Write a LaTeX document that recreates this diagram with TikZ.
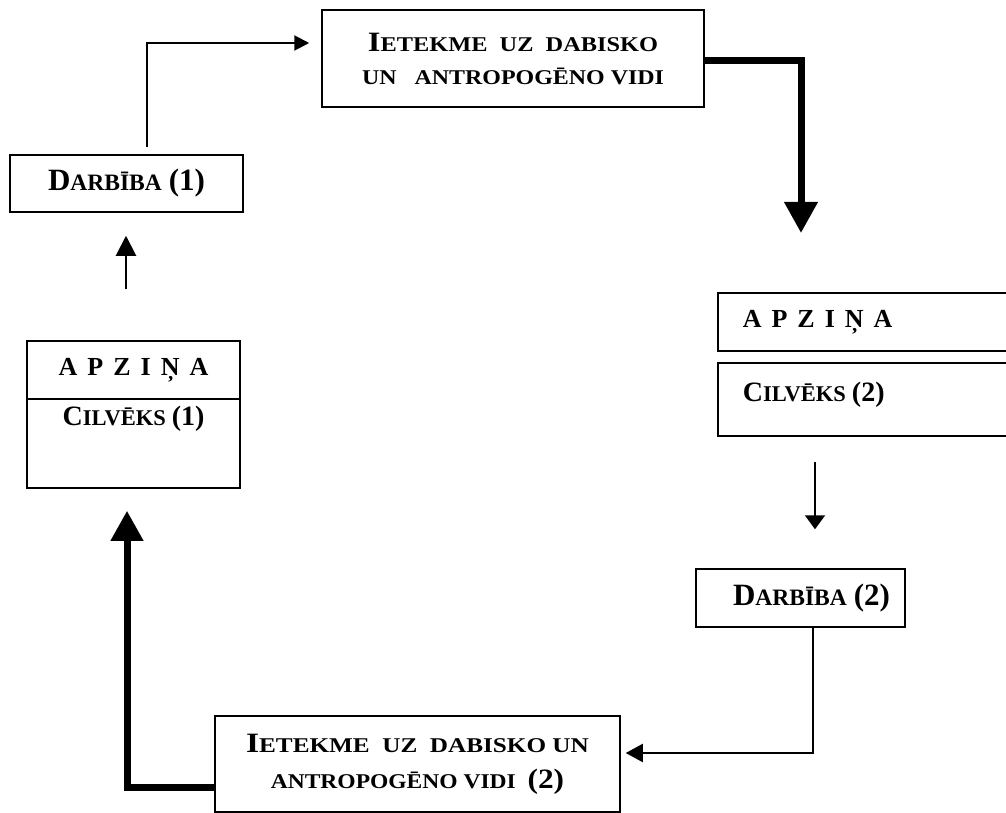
\documentclass[tikz,border=0pt]{standalone}
\usepackage{fontspec}
\setmainfont{Liberation Serif}
\usetikzlibrary{arrows.meta}
\newcommand\fz[2]{{\fontsize{#1}{#1}\selectfont #2}}
\newcommand\gap{\hspace{10pt}}
\begin{document}
\begin{tikzpicture}[x=1pt,y=-1pt, font=\bfseries,
  box/.style={draw, line width=1.5pt, inner sep=0pt},
  thinarrow/.style={line width=2pt},
  thickarrow/.style={line width=7pt}]
\useasboundingbox (0,0) rectangle (1006,813);

% boxes
\node[box, minimum width=382, minimum height=97, align=center,
      font=\bfseries\fontsize{21}{31}\selectfont] (top) at (513,58.5)
  {\raisebox{2pt}{\scalebox{1.16}[1]{\fz{28}{I}\fz{21}{ETEKME\ \ UZ\ \ DABISKO}}}\\
   \scalebox{1.14}[1]{\fz{21}{UN\ \ \ ANTROPOGĒNO VIDI}}};

\node[box, minimum width=233, minimum height=57] (darb1) at (126.5,183.5)
  {\fz{31}{D}\fz{23.5}{ARBĪBA}\hspace{7pt}\fz{31}{(1)}};

\node[box, minimum width=213, minimum height=58] (apz1) at (133.5,370)
  {\fz{26}{A\gap P\gap Z\gap I\gap Ņ\gap A}};
\node[box, minimum width=213, minimum height=89,
      label={[anchor=center, yshift=-21pt]north:{\fz{28}{C}\fz{22.5}{ILVĒKS}\hspace{6pt}\fz{28}{(1)}}}]
  (apz1b) at (133.5,443.5) {};

\node[box, minimum width=294, minimum height=58,
      label={[anchor=west, xshift=22pt]west:{\fz{26}{A\gap P\gap Z\gap I\gap Ņ\gap A}}}]
  (apz2) at (865,322) {};
\node[box, minimum width=294, minimum height=73,
      label={[anchor=west, xshift=22pt, yshift=5pt]west:{\fz{28}{C}\fz{22.5}{ILVĒKS}\hspace{6pt}\fz{28}{(2)}}}]
  (apz2b) at (865,399.5) {};

\node[box, minimum width=209, minimum height=58] (darb2) at (800.5,598)
  {\hspace*{22pt}\fz{31}{D}\fz{23.5}{ARBĪBA}\hspace{7pt}\fz{31}{(2)}};

\node[box, minimum width=405, minimum height=96, align=center,
      font=\bfseries\fontsize{21}{34}\selectfont] (bot) at (417.5,764)
  {\raisebox{2pt}{\scalebox{1.2}[1]{\fz{28}{I}\fz{21}{ETEKME\ \ UZ\ \ DABISKO UN}}}\\
   \scalebox{1.12}[1]{\fz{21}{ANTROPOGĒNO VIDI}\ \ \fz{28}{(2)}}};

% connectors
\coordinate (c1) at (147,43);
\draw[thinarrow, -{Triangle[length=15pt,width=15pt]}, shorten <=7pt]
  (darb1.north -| c1) -- (c1) -- ([xshift=-12pt]top.west |- c1);

\coordinate (c2) at (801,233);
\draw[thickarrow, -{Triangle[length=31pt,width=32pt]}]
  ([yshift=-2pt]top.east) -- ([yshift=-2pt]top.east -| c2) -- (c2);

\coordinate (c3) at (815,0);
\draw[thinarrow, -{Triangle[length=14pt,width=20pt]}, shorten <=25pt, shorten >=39pt]
  (apz2b.south -| c3) -- (darb2.north -| c3);

\coordinate (c4) at (813,753);
\draw[thinarrow, -{Triangle[length=17pt,width=18pt]}]
  (darb2.south -| c4) -- (c4) -- ([xshift=5pt]bot.east |- c4);

\coordinate (c5) at (127,787);
\draw[thickarrow, -{Triangle[length=30pt,width=31pt]}]
  (bot.west |- c5) -- (c5) -- ([yshift=-22pt]apz1b.south -| c5);

\coordinate (c6) at (126,0);
\draw[thinarrow, -{Triangle[length=20pt,width=20pt]}, shorten <=51pt, shorten >=23pt]
  (apz1.north -| c6) -- (darb1.south -| c6);
\end{tikzpicture}
\end{document}
